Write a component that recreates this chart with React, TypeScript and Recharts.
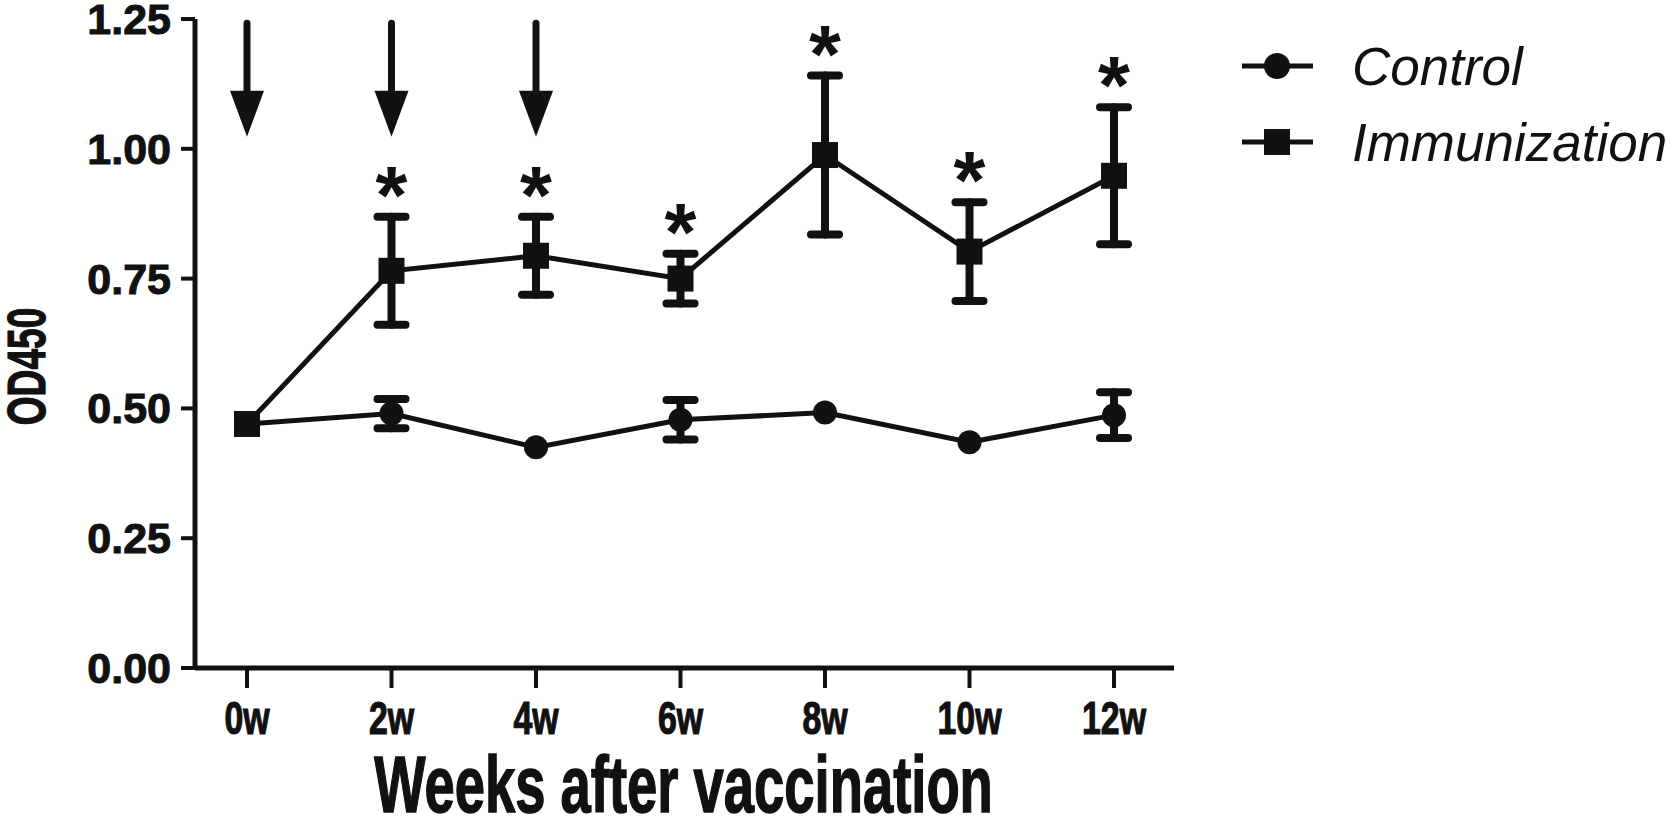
import React from "react";
import {
  ComposedChart,
  Line,
  XAxis,
  YAxis,
  ErrorBar,
  Legend,
  ReferenceLine,
} from "recharts";

const weeks = ["0w", "2w", "4w", "6w", "8w", "10w", "12w"];
const controlMean = [0.47, 0.49, 0.425, 0.478, 0.492, 0.435, 0.487];
// null = error bar smaller than the marker, not visible
const controlErr = [null, 0.028, null, 0.038, null, null, 0.044];
const immunMean = [0.47, 0.765, 0.794, 0.75, 0.988, 0.802, 0.948];
const immunErr = [null, 0.104, 0.075, 0.048, 0.153, 0.095, 0.132];
const significant = [false, true, true, true, true, true, true];

// vaccination arrows
const boosterWeeks = ["0w", "2w", "4w"];
const arrowTop = 1.242;
const arrowTip = 1.023;
const arrowShaftEnd = 1.1;

const yTicks = [0, 0.25, 0.5, 0.75, 1.0, 1.25];
const seriesNames = ["Control", "Immunization"];

const data = weeks.map((week, i) => ({
  week,
  control: controlMean[i],
  controlErr: controlErr[i],
  immun: immunMean[i],
  immunErr: immunErr[i],
  sigTop: significant[i] ? immunMean[i] + (immunErr[i] ?? 0) : null,
  arrow: boosterWeeks.includes(week) ? arrowTip : null,
}));

const FONT = "'Liberation Sans', Arial, sans-serif";
const INK = "#111";

const XTick = (props: any) => {
  const { x, y, payload } = props;
  return (
    <g transform={`translate(${x},${y + 44})`}>
      <text
        transform="scale(0.72,1)"
        textAnchor="middle"
        fontFamily={FONT}
        fontWeight={700}
        fontSize={47}
        fill={INK}
        stroke={INK}
        strokeWidth={1.2}
      >
        {payload.value}
      </text>
    </g>
  );
};

const YTick = (props: any) => {
  const { x, y, payload } = props;
  return (
    <text
      x={x}
      y={y}
      dy={15}
      textAnchor="end"
      fontFamily={FONT}
      fontWeight={700}
      fontSize={43}
      fill={INK}
      stroke={INK}
      strokeWidth={1}
    >
      {Number(payload.value).toFixed(2)}
    </text>
  );
};

const CircleDot = (props: any) => {
  const { cx, cy } = props;
  if (cx == null || cy == null) return <g />;
  return <circle cx={cx} cy={cy} r={12} fill={INK} />;
};

const SquareDot = (props: any) => {
  const { cx, cy } = props;
  if (cx == null || cy == null) return <g />;
  return <rect x={cx - 13} y={cy - 13} width={26} height={26} fill={INK} />;
};

const StarDot = (props: any) => {
  const { cx, cy, payload } = props;
  if (cx == null || cy == null || payload.sigTop == null) return <g />;
  return (
    <text
      x={cx}
      y={cy + 6}
      textAnchor="middle"
      fontFamily={FONT}
      fontWeight={700}
      fontSize={82}
      fill={INK}
    >
      *
    </text>
  );
};

const ArrowHead = (props: any) => {
  const { cx, cy, payload } = props;
  if (cx == null || cy == null || payload.arrow == null) return <g />;
  return (
    <polygon
      points={`${cx},${cy} ${cx - 17},${cy - 46} ${cx + 17},${cy - 46}`}
      fill={INK}
    />
  );
};

const YTitle = (props: any) => {
  const { viewBox } = props;
  const cx = viewBox.x + 45;
  const cy = viewBox.y + viewBox.height / 2 + 23;
  return (
    <g transform={`translate(${cx},${cy}) rotate(-90) scale(0.7,1)`}>
      <text
        textAnchor="middle"
        fontFamily={FONT}
        fontWeight={700}
        fontSize={53}
        fill={INK}
        stroke={INK}
        strokeWidth={1.2}
      >
        OD450
      </text>
    </g>
  );
};

const XTitle = (props: any) => {
  const { viewBox } = props;
  const cx = viewBox.x + viewBox.width / 2 - 1;
  const cy = 812;
  return (
    <g transform={`translate(${cx},${cy}) scale(0.68,1)`}>
      <text
        textAnchor="middle"
        fontFamily={FONT}
        fontWeight={700}
        fontSize={80}
        fill={INK}
        stroke={INK}
        strokeWidth={1.5}
      >
        Weeks after vaccination
      </text>
    </g>
  );
};

const renderLegend = () => (
  <svg width={440} height={150}>
    {seriesNames.map((name, i) => {
      const y = 42 + 76 * i;
      return (
        <g key={name}>
          <line x1={10} x2={81} y1={y} y2={y} stroke={INK} strokeWidth={5} />
          {i === 0 ? (
            <circle cx={45} cy={y} r={13} fill={INK} />
          ) : (
            <rect x={32} y={y - 13} width={26} height={26} fill={INK} />
          )}
          <text
            x={120}
            y={y + 19}
            fontFamily={FONT}
            fontStyle="italic"
            fontSize={53}
            fill={INK}
          >
            {name}
          </text>
        </g>
      );
    })}
  </svg>
);

export default function App() {
  return (
    <div style={{ position: "absolute", left: 0, top: 0, background: "#fff" }}>
      <ComposedChart
        width={1674}
        height={831}
        data={data}
        margin={{ top: 19, right: 500, left: 0, bottom: 0 }}
      >
        <XAxis
          dataKey="week"
          scale="point"
          padding={{ left: 52, right: 60 }}
          height={163}
          tickSize={20}
          tickMargin={2}
          axisLine={{ stroke: INK, strokeWidth: 5 }}
          tickLine={{ stroke: INK, strokeWidth: 4 }}
          tick={<XTick />}
          interval={0}
          label={<XTitle />}
        />
        <YAxis
          type="number"
          domain={[0, 1.25]}
          ticks={yTicks}
          width={195}
          tickSize={14}
          tickMargin={10}
          axisLine={{ stroke: INK, strokeWidth: 5 }}
          tickLine={{ stroke: INK, strokeWidth: 4 }}
          tick={<YTick />}
          allowDataOverflow
          label={<YTitle />}
        />
        {boosterWeeks.map((w) => (
          <ReferenceLine
            key={w}
            segment={[
              { x: w, y: arrowTop },
              { x: w, y: arrowShaftEnd },
            ]}
            stroke={INK}
            strokeWidth={7}
            strokeLinecap="round"
          />
        ))}
        <Line
          name="Control"
          dataKey="control"
          stroke={INK}
          strokeWidth={5}
          dot={<CircleDot />}
          activeDot={false}
          isAnimationActive={false}
        >
          <ErrorBar
            dataKey="controlErr"
            direction="y"
            width={14}
            stroke={INK}
            strokeWidth={8}
            strokeLinecap="round"
          />
        </Line>
        <Line
          name="Immunization"
          dataKey="immun"
          stroke={INK}
          strokeWidth={5}
          dot={<SquareDot />}
          activeDot={false}
          isAnimationActive={false}
        >
          <ErrorBar
            dataKey="immunErr"
            direction="y"
            width={14}
            stroke={INK}
            strokeWidth={8}
            strokeLinecap="round"
          />
        </Line>
        <Line
          dataKey="sigTop"
          stroke="none"
          legendType="none"
          dot={<StarDot />}
          activeDot={false}
          isAnimationActive={false}
        />
        <Line
          dataKey="arrow"
          stroke="none"
          legendType="none"
          dot={<ArrowHead />}
          activeDot={false}
          isAnimationActive={false}
        />
        <Legend
          layout="vertical"
          align="center"
          verticalAlign="middle"
          wrapperStyle={{ left: 1232, top: 24, width: 440, height: 150 }}
          content={renderLegend}
        />
      </ComposedChart>
    </div>
  );
}
